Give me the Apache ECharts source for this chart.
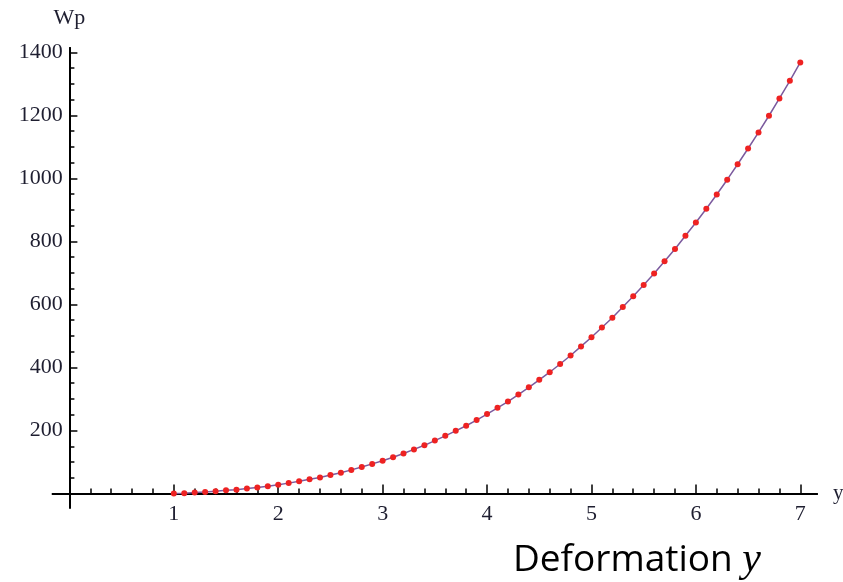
<!DOCTYPE html>
<html>
<head>
<meta charset="utf-8">
<script src="https://cdn.jsdelivr.net/npm/echarts@6/dist/echarts.min.js"></script>
<style>
  html, body { margin: 0; padding: 0; background: #fff; }
  #chart { width: 843px; height: 582px; }
</style>
</head>
<body>
<div id="chart"></div>
<script>
// deformation y (x axis) and Wp values
const deformation = [
  1.0, 1.1, 1.2, 1.3, 1.4, 1.5, 1.6, 1.7, 1.8, 1.9,
  2.0, 2.1, 2.2, 2.3, 2.4, 2.5, 2.6, 2.7, 2.8, 2.9,
  3.0, 3.1, 3.2, 3.3, 3.4, 3.5, 3.6, 3.7, 3.8, 3.9,
  4.0, 4.1, 4.2, 4.3, 4.4, 4.5, 4.6, 4.7, 4.8, 4.9,
  5.0, 5.1, 5.2, 5.3, 5.4, 5.5, 5.6, 5.7, 5.8, 5.9,
  6.0, 6.1, 6.2, 6.3, 6.4, 6.5, 6.6, 6.7, 6.8, 6.9,
  7.0
];
const wp = [
  0, 1, 3, 5, 7, 10, 12, 16, 19, 23,
  28, 33, 39, 45, 51, 59, 66, 75, 84, 94,
  104, 115, 127, 140, 153, 168, 183, 199, 215, 233,
  252, 272, 292, 314, 337, 361, 385, 411, 438, 467,
  496, 527, 558, 592, 626, 662, 698, 737, 776, 818,
  860, 904, 949, 996, 1045, 1095, 1146, 1199, 1254, 1310,
  1368
];
const xTickLabels = [1, 2, 3, 4, 5, 6, 7];
const yTickLabels = [200, 400, 600, 800, 1000, 1200, 1400];

// minor ticks: every 0.2 on x, every 50 on y
const xMinor = [];
for (let i = 1; i < 35; i++) if (i % 5 !== 0) xMinor.push(i / 5);
const yMinor = [];
for (let v = 50; v < 1400; v += 50) if (v % 200 !== 0) yMinor.push(v);

const points = deformation.map((d, i) => [d, wp[i]]);

const chart = echarts.init(document.getElementById('chart'));

const axisColor = '#000';
const labelFont = 'Liberation Serif';
const labelColor = '#1e1e30';

function xAxisOf(ticks, len, withLabels) {
  return {
    type: 'value',
    position: 'bottom',
    min: -0.16,
    max: 7.16,
    name: withLabels ? 'y' : '',
    nameLocation: 'end',
    nameGap: 16,
    nameTextStyle: { fontFamily: labelFont, fontSize: 21, color: labelColor, align: 'left', verticalAlign: 'middle' },
    axisLine: { show: true, onZero: true, lineStyle: { color: axisColor, width: 2 } },
    axisTick: { show: true, inside: true, length: len, customValues: ticks, lineStyle: { color: axisColor, width: 1.5 } },
    axisLabel: {
      show: withLabels,
      customValues: xTickLabels,
      margin: -4,
      fontFamily: labelFont,
      fontSize: 22,
      color: labelColor
    },
    splitLine: { show: false }
  };
}

function yAxisOf(ticks, len, withLabels) {
  return {
    type: 'value',
    position: 'left',
    min: -45,
    max: 1414,
    name: withLabels ? 'Wp' : '',
    nameLocation: 'end',
    nameGap: 30,
    nameTextStyle: { fontFamily: labelFont, fontSize: 22, color: labelColor, align: 'center', verticalAlign: 'middle' },
    axisLine: { show: true, onZero: true, lineStyle: { color: axisColor, width: 2 } },
    axisTick: { show: true, inside: true, length: len, customValues: ticks, lineStyle: { color: axisColor, width: 1.5 } },
    axisLabel: {
      show: withLabels,
      customValues: yTickLabels,
      margin: -10,
      fontFamily: labelFont,
      fontSize: 22,
      color: labelColor,
      formatter: (v) => String(v)
    },
    splitLine: { show: false }
  };
}

const option = {
  animation: false,
  backgroundColor: '#fff',
  title: {
    text: '{a|Deformation }{b|y}',
    left: 508,
    top: 534,
    textStyle: {
      rich: {
        a: { fontFamily: 'Open Sans', fontSize: 37, fontWeight: 'normal', color: '#000' },
        b: { fontFamily: 'Liberation Serif', fontStyle: 'italic', fontWeight: 'normal', fontSize: 42, color: '#000' }
      }
    }
  },
  grid: {
    left: 52.7,
    right: 26,
    top: 48,
    bottom: 74.3,
    containLabel: false,
    outerBoundsMode: 'none'
  },
  xAxis: [
    xAxisOf(xTickLabels, 9, true),
    xAxisOf(xMinor, 5, false)
  ],
  yAxis: [
    yAxisOf(yTickLabels, 8, true),
    yAxisOf(yMinor, 5, false)
  ],
  series: [
    {
      type: 'line',
      xAxisIndex: 0,
      yAxisIndex: 0,
      data: points,
      symbol: 'circle',
      symbolSize: 6,
      showSymbol: true,
      lineStyle: { color: '#7b5a9e', width: 1.5 },
      itemStyle: { color: '#ee2222' }
    }
  ]
};

chart.setOption(option);
</script>
</body>
</html>
